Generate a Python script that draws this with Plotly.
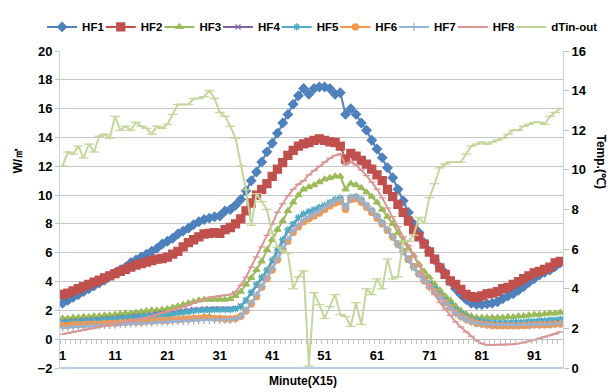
import plotly.graph_objects as go

minutes = list(range(1, 97))

hf1 = [2.5, 2.7, 2.9, 3.1, 3.3, 3.5, 3.7, 3.9, 4.1, 4.4,
       4.6, 4.8, 5.0, 5.3, 5.5, 5.7, 5.9, 6.1, 6.3, 6.6,
       6.8, 7.0, 7.3, 7.5, 7.7, 7.95, 8.15, 8.3, 8.4, 8.5,
       8.55, 8.9, 9.0, 9.3, 9.7, 10.3, 11.0, 11.6, 12.3, 13.0,
       13.6, 14.3, 15.0, 15.6, 16.3, 16.9, 17.4, 17.0, 17.4, 17.5,
       17.5, 17.4, 17.0, 17.1, 15.6, 16.0, 15.6, 15.0, 14.5, 13.8,
       13.2, 12.6, 11.9, 11.2, 10.4, 9.6, 8.8, 8.0, 7.4, 6.7,
       6.1, 5.5, 5.0, 4.6, 4.0, 3.5, 3.1, 2.75, 2.5, 2.4,
       2.4, 2.45, 2.5, 2.6, 2.8, 3.0, 3.15, 3.4, 3.65, 3.95,
       4.2, 4.45, 4.65, 4.8, 5.05, 5.3]

hf2 = [3.1, 3.2, 3.35, 3.5, 3.65, 3.8, 3.95, 4.1, 4.25, 4.4,
       4.55, 4.7, 4.85, 5.0, 5.15, 5.25, 5.35, 5.45, 5.55, 5.6,
       5.7, 5.9, 6.1, 6.4, 6.7, 6.9, 7.1, 7.3, 7.35, 7.4,
       7.35, 7.6, 7.75, 8.0, 8.35, 8.9, 9.45, 10.0, 10.4, 10.8,
       11.3, 11.8, 12.25, 12.75, 13.1, 13.4, 13.55, 13.65, 13.8, 13.9,
       13.8, 13.7, 13.65, 13.4, 12.5, 12.9, 12.7, 12.4, 12.15, 11.8,
       11.4, 11.0, 10.4, 9.9, 9.35, 8.8, 8.2, 7.6, 7.1, 6.6,
       6.05, 5.55, 4.95, 4.5, 4.05, 3.8, 3.45, 3.1, 2.95, 2.9,
       3.0, 3.15, 3.2, 3.3, 3.5, 3.6, 3.8, 4.0, 4.2, 4.4,
       4.6, 4.7, 4.85, 5.0, 5.3, 5.4]

hf3 = [1.45, 1.45, 1.5, 1.5, 1.55, 1.55, 1.6, 1.6, 1.65, 1.65,
       1.7, 1.75, 1.8, 1.8, 1.85, 1.9, 1.95, 2.0, 2.0, 2.05,
       2.1, 2.2, 2.3, 2.4, 2.5, 2.6, 2.7, 2.75, 2.75, 2.75,
       2.75, 2.75, 2.8, 3.0, 3.3, 3.8, 4.25, 4.8, 5.4, 6.2,
       6.9, 7.6, 8.2, 8.9, 9.5, 10.0, 10.4, 10.55, 10.7, 10.9,
       11.1, 11.2, 11.3, 11.3, 10.4, 10.8, 10.7, 10.5, 10.2, 9.9,
       9.5, 9.0, 8.5, 8.0, 7.4, 6.8, 6.3, 5.8, 5.2, 4.7,
       4.3, 3.8, 3.4, 3.0, 2.7, 2.3, 2.0, 1.75, 1.6, 1.5,
       1.5, 1.5, 1.5, 1.5, 1.5, 1.55, 1.55, 1.6, 1.6, 1.65,
       1.7, 1.7, 1.75, 1.8, 1.8, 1.85]

hf4 = [1.2, 1.2, 1.25, 1.25, 1.3, 1.3, 1.35, 1.35, 1.4, 1.4,
       1.45, 1.5, 1.5, 1.55, 1.6, 1.6, 1.65, 1.7, 1.75, 1.8,
       1.8, 1.85, 1.9, 1.95, 2.0, 2.05, 2.05, 2.1, 2.1, 2.1,
       2.1, 2.1, 2.1, 2.15, 2.3, 2.7, 3.2, 3.7, 4.2, 4.75,
       5.4, 6.1, 6.8, 7.5, 7.95, 8.4, 8.65, 8.85, 8.95, 9.1,
       9.25, 9.45, 9.6, 9.7, 9.1, 9.75, 9.8, 9.6, 9.25, 8.9,
       8.5, 8.05, 7.55, 7.05, 6.55, 6.05, 5.5, 4.95, 4.5, 4.15,
       3.8, 3.45, 3.05, 2.65, 2.35, 2.0, 1.75, 1.5, 1.35, 1.25,
       1.2, 1.15, 1.1, 1.1, 1.1, 1.1, 1.15, 1.15, 1.15, 1.2,
       1.2, 1.2, 1.25, 1.25, 1.3, 1.3]

hf5 = [1.15, 1.15, 1.2, 1.2, 1.25, 1.25, 1.3, 1.3, 1.35, 1.35,
       1.4, 1.45, 1.45, 1.5, 1.5, 1.55, 1.6, 1.6, 1.65, 1.7,
       1.7, 1.75, 1.8, 1.85, 1.9, 1.95, 2.0, 2.0, 2.0, 2.05,
       2.05, 2.05, 2.05, 2.1, 2.25, 2.7, 3.25, 3.8, 4.3, 4.8,
       5.5, 6.2, 6.9, 7.6, 8.0, 8.45, 8.7, 8.85, 9.0, 9.15,
       9.3, 9.5, 9.7, 9.8, 9.2, 9.85, 9.9, 9.7, 9.3, 8.95,
       8.55, 8.1, 7.6, 7.1, 6.6, 6.1, 5.55, 5.0, 4.55, 4.2,
       3.85, 3.5, 3.1, 2.7, 2.4, 2.05, 1.8, 1.55, 1.4, 1.3,
       1.25, 1.2, 1.15, 1.15, 1.15, 1.15, 1.2, 1.2, 1.2, 1.25,
       1.25, 1.3, 1.3, 1.35, 1.35, 1.4]

hf6 = [0.95, 0.95, 1.0, 1.0, 1.0, 1.05, 1.05, 1.05, 1.1, 1.1,
       1.1, 1.15, 1.15, 1.2, 1.2, 1.2, 1.25, 1.25, 1.3, 1.3,
       1.3, 1.35, 1.35, 1.4, 1.4, 1.45, 1.45, 1.5, 1.5, 1.45,
       1.45, 1.4, 1.4, 1.45, 1.6, 1.95, 2.45, 2.95, 3.6, 4.2,
       4.8, 5.5, 6.2, 6.8, 7.4, 7.8, 8.15, 8.35, 8.55, 8.75,
       9.0, 9.25, 9.45, 9.55, 9.0, 9.7, 9.75, 9.5, 9.15, 8.8,
       8.4, 8.0, 7.55, 7.1, 6.6, 6.1, 5.55, 5.05, 4.55, 4.05,
       3.65, 3.3, 2.95, 2.55, 2.2, 1.85, 1.6, 1.4, 1.25, 1.1,
       1.05, 1.0, 0.95, 0.93, 0.93, 0.93, 0.93, 0.93, 0.95, 0.95,
       1.0, 1.0, 1.0, 1.0, 1.05, 1.05]

hf7 = [0.8, 0.82, 0.85, 0.87, 0.9, 0.92, 0.95, 0.97, 1.0, 1.0,
       1.02, 1.05, 1.07, 1.1, 1.1, 1.12, 1.15, 1.17, 1.2, 1.2,
       1.22, 1.25, 1.25, 1.28, 1.3, 1.3, 1.32, 1.35, 1.35, 1.35,
       1.35, 1.35, 1.35, 1.4, 1.6, 2.0, 2.5, 3.05, 3.65, 4.25,
       4.9, 5.6, 6.3, 6.95, 7.5, 7.95, 8.3, 8.5, 8.7, 8.9,
       9.15, 9.4, 9.6, 9.7, 9.1, 9.8, 9.85, 9.6, 9.25, 8.9,
       8.5, 8.05, 7.6, 7.1, 6.6, 6.1, 5.55, 5.0, 4.5, 4.05,
       3.6, 3.25, 2.9, 2.5, 2.15, 1.8, 1.55, 1.35, 1.2, 1.1,
       1.05, 1.0, 1.0, 1.0, 1.0, 1.0, 1.0, 1.0, 1.0, 1.0,
       1.0, 1.0, 1.05, 1.05, 1.05, 1.1]

hf8 = [0.35, 0.42, 0.5, 0.56, 0.63, 0.7, 0.77, 0.84, 0.9, 0.97,
       1.04, 1.1, 1.18, 1.26, 1.34, 1.42, 1.5, 1.6, 1.7, 1.8,
       1.9, 2.0, 2.1, 2.2, 2.35, 2.5, 2.65, 2.8, 2.9, 2.95,
       3.0, 3.05, 3.1, 3.3, 3.75, 4.3, 5.0, 5.7, 6.4, 7.2,
       8.0, 8.8, 9.4, 9.95, 10.4, 10.75, 11.0, 11.4, 11.7, 12.0,
       12.3, 12.55, 12.75, 12.85, 12.1, 12.3, 12.1, 11.75, 11.35, 10.9,
       10.4, 9.8, 9.1, 8.5, 7.8, 7.1, 6.5, 5.8, 5.1, 4.4,
       3.75, 3.1, 2.55, 2.1, 1.65, 1.2, 0.85, 0.5, 0.2, -0.1,
       -0.3, -0.4, -0.4, -0.4, -0.4, -0.38, -0.35, -0.3, -0.25, -0.15,
       -0.05, 0.05, 0.15, 0.25, 0.35, 0.5]

dtin_out = [10.2, 10.9, 10.8, 11.2, 10.6, 11.3, 10.9, 11.7, 11.8, 11.6,
            12.7, 12.0, 12.2, 12.0, 12.4, 12.2, 12.1, 11.8, 12.2, 12.1,
            12.3, 12.8, 13.3, 13.3, 13.3, 13.6, 13.6, 13.7, 14.0, 13.6,
            12.9, 12.7, 12.2, 11.6, 10.2, 9.0, 7.2, 8.8, 8.4, 8.0,
            6.8, 6.1, 5.9, 5.8, 4.0, 4.6, 4.9, 0.1, 3.8, 3.2,
            2.5, 3.1, 3.7, 2.7, 2.6, 2.1, 3.3, 2.2, 4.0, 3.7,
            4.5, 4.0, 5.5, 4.5, 4.6, 6.4, 6.4, 6.7, 7.6, 7.3,
            8.6, 9.3, 10.1, 10.3, 10.4, 10.4, 10.4, 10.8, 11.2, 11.3,
            11.4, 11.3, 11.4, 11.5, 11.6, 11.8, 12.0, 12.0, 12.2, 12.3,
            12.4, 12.4, 12.3, 12.7, 12.9, 13.1]

x_tick_vals = [1, 11, 21, 31, 41, 51, 61, 71, 81, 91]
left_ticks = list(range(-2, 21, 2))
right_ticks = list(range(0, 17, 2))

FONT = "Liberation Sans, Arial, sans-serif"

series = [
    ("HF1", hf1, "#4F81BD", dict(symbol="diamond", size=7), "y"),
    ("HF2", hf2, "#C0504D", dict(symbol="square", size=8), "y"),
    ("HF3", hf3, "#9BBB59", dict(symbol="triangle-up", size=6), "y"),
    ("HF4", hf4, "#8064A2", dict(symbol="x-thin", size=5), "y"),
    ("HF5", hf5, "#4BACC6", dict(symbol="asterisk", size=6), "y"),
    ("HF6", hf6, "#F79646", dict(symbol="circle", size=6), "y"),
    ("HF7", hf7, "#95B3D7", dict(symbol="cross-thin", size=6), "y"),
    ("HF8", hf8, "#D99694", dict(symbol="line-ew", size=5), "y"),
    ("dTin-out", dtin_out, "#C3D69B", dict(symbol="line-ew", size=7), "y2"),
]

# plot area in pixels: left 60, width 506; top 46, height 322
PLOT_L, PLOT_W, PLOT_B, PLOT_H = 60, 506, 368, 322
LEG_START, LEG_PITCH, LEG_Y = 42, 59, 21.5

fig = go.Figure()
legend_layouts = {}
for k, (name, vals, color, mk, yax) in enumerate(series):
    leg_id = "legend" if k == 0 else f"legend{k + 1}"
    marker = dict(color=color, line=dict(color=color, width=1.3), **mk)
    fig.add_trace(go.Scatter(x=minutes, y=vals, name=name, mode="lines+markers",
                             line=dict(color=color, width=2), marker=marker,
                             xaxis="x2" if yax == "y2" else "x", yaxis=yax,
                             legend=leg_id))
    left_px = LEG_START + k * LEG_PITCH
    legend_layouts[leg_id] = dict(
        orientation="h", xanchor="left", yanchor="middle",
        x=(left_px - PLOT_L) / PLOT_W, y=(PLOT_B - LEG_Y) / PLOT_H,
        font=dict(family=FONT, size=11.5, weight="bold", color="black"),
        itemwidth=30, bgcolor="rgba(0,0,0,0)", borderwidth=0)

fig.update_layout(
    width=614, height=392,
    margin=dict(l=60, r=48, t=46, b=24),
    paper_bgcolor="white", plot_bgcolor="white",
    font=dict(family=FONT, size=12, color="black", weight="bold"),
    showlegend=True,
    xaxis=dict(range=[0.5, 96.5], anchor="free", position=2 / 22,
               tickmode="array", tickvals=x_tick_vals,
               ticktext=[str(v) for v in x_tick_vals],
               ticks="", showgrid=False, zeroline=False,
               showline=True, linecolor="#BFBFBF", linewidth=1,
               minor=dict(tick0=0.5, dtick=1, ticks="outside", ticklen=4,
                          tickcolor="#BFBFBF", showgrid=False),
               tickfont=dict(size=13, weight="bold"), ticklabelstandoff=4),
    xaxis2=dict(range=[0.5, 96.5], overlaying="x", anchor="free", position=0,
                showticklabels=False, ticks="", showgrid=False, zeroline=False,
                showline=True, linecolor="#B9CDE5", linewidth=1.5),
    yaxis=dict(range=[-2, 20], tickvals=left_ticks, showgrid=True,
               gridcolor="#C6C6C6", gridwidth=1, zeroline=False,
               showline=True, linecolor="#C9D3E0", linewidth=1,
               ticks="outside", ticklen=4, tickcolor="#BFBFBF",
               tickfont=dict(size=13, weight="bold")),
    yaxis2=dict(range=[0, 16], tickvals=right_ticks, overlaying="y", side="right",
                showgrid=False, zeroline=False,
                showline=True, linecolor="#C9D3E0", linewidth=1,
                ticks="outside", ticklen=5, tickcolor="#BFBFBF",
                tickfont=dict(size=13, weight="bold")),
    annotations=[
        dict(text="W/㎡", xref="paper", yref="paper", x=(18 - PLOT_L) / PLOT_W,
             y=(PLOT_B - 157) / PLOT_H,
             xanchor="center", yanchor="middle", textangle=-90, showarrow=False,
             font=dict(size=12, weight="bold")),
        dict(text="Temp.(℃)", xref="paper", yref="paper", x=(604 - PLOT_L) / PLOT_W,
             y=(PLOT_B - 158) / PLOT_H,
             xanchor="center", yanchor="middle", textangle=90, showarrow=False,
             font=dict(size=12, weight="bold")),
        dict(text="Minute(X15)", xref="paper", yref="paper", x=(304 - PLOT_L) / PLOT_W,
             y=(PLOT_B - 381) / PLOT_H,
             xanchor="center", yanchor="middle", showarrow=False,
             font=dict(size=12, weight="bold")),
    ],
    **legend_layouts,
)

fig.write_html("out.html")
